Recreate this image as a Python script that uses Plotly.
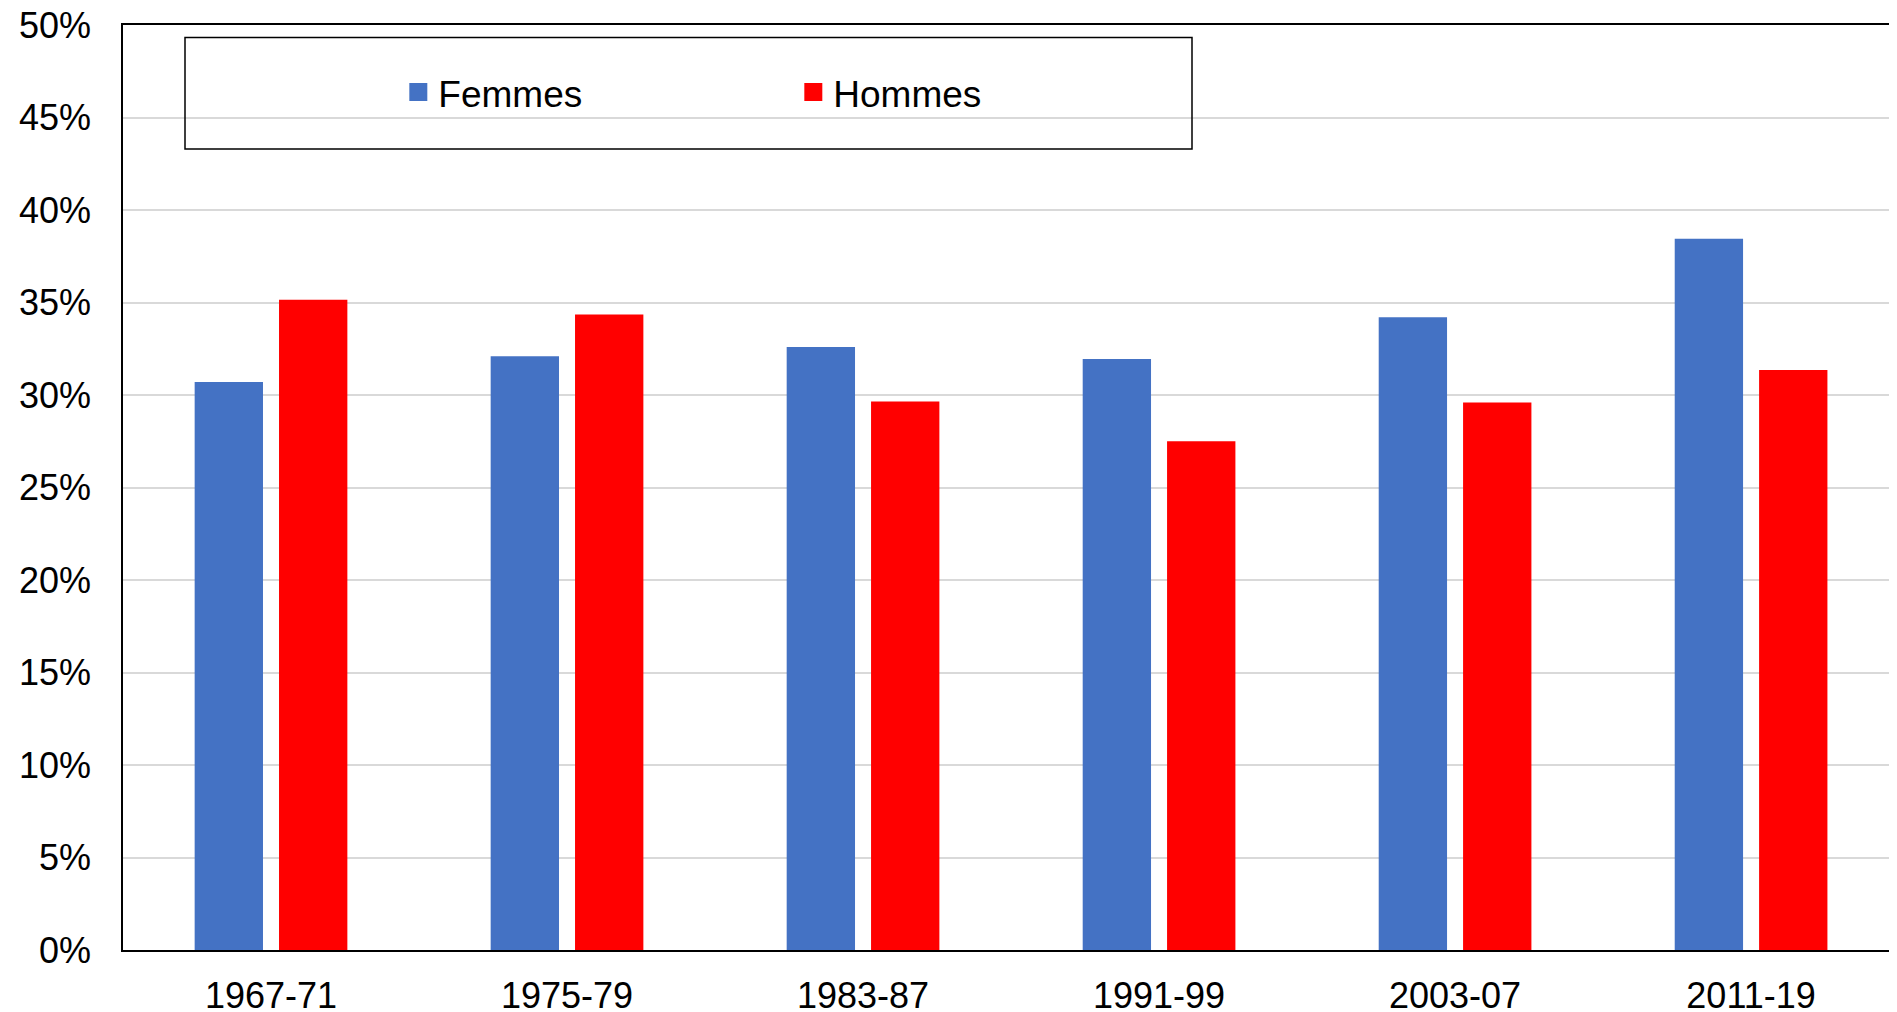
import plotly.graph_objects as go

periods = ["1967-71", "1975-79", "1983-87", "1991-99", "2003-07", "2011-19"]
femmes = [30.7, 32.1, 32.6, 31.95, 34.2, 38.45]
hommes = [35.15, 34.35, 29.65, 27.5, 29.6, 31.35]
y_ticks = [0, 5, 10, 15, 20, 25, 30, 35, 40, 45, 50]
y_labels = [f"{v}%" for v in y_ticks]

BLUE = "#4472C4"
RED = "#FF0000"
FONT = "Arial, Liberation Sans, sans-serif"

# page body has an 8px margin; figure coordinates are offset accordingly
ML, MT, PLOT_W, PLOT_H = 115, 17, 1782, 925

fig = go.Figure()
fig.add_trace(go.Bar(x=periods, y=femmes, name="Femmes", marker_color=BLUE,
                     marker_line_width=0, showlegend=False))
fig.add_trace(go.Bar(x=periods, y=hommes, name="Hommes", marker_color=RED,
                     marker_line_width=0, showlegend=False))
# legend entries with larger square swatches
for name, col in [("Femmes", BLUE), ("Hommes", RED)]:
    fig.add_trace(go.Scatter(x=[periods[0]], y=[None], mode="markers", name=name,
                             marker=dict(symbol="square", size=16, color=col,
                                         line=dict(color=col, width=2))))

fig.update_layout(
    width=1897, height=1012,
    margin=dict(l=ML, r=0, t=MT, b=1012 - MT - PLOT_H),
    paper_bgcolor="white", plot_bgcolor="white",
    barmode="group", bargap=0.43, bargroupgap=0.19,
    font=dict(family=FONT, size=36, color="black"),
    showlegend=True,
    legend=dict(orientation="h", x=0.1545, y=0.927, xanchor="left", yanchor="middle",
                font=dict(size=37), entrywidth=350, bgcolor="rgba(0,0,0,0)",
                itemsizing="trace"),
    shapes=[dict(type="rect", xref="paper", yref="paper",
                 x0=62 / PLOT_W, x1=1069 / PLOT_W,
                 y0=(926 - 125) / PLOT_H, y1=(926 - 13.5) / PLOT_H,
                 line=dict(color="black", width=1.5), fillcolor="rgba(0,0,0,0)", layer="above")],
)
fig.update_xaxes(type="category", showline=True, linecolor="black", linewidth=2, mirror=True,
                 showgrid=False, ticks="", ticklabelstandoff=13, automargin=False,
                 ticklabeloverflow="allow",
                 tickfont=dict(size=36), range=[-0.5, 5.52])
fig.update_yaxes(range=[0, 50], tickvals=y_ticks, ticktext=y_labels,
                 showgrid=True, gridcolor="#d9d9d9", gridwidth=1.5,
                 showline=True, linecolor="black", linewidth=1.5, mirror=False,
                 ticks="", ticklabelstandoff=23, tickfont=dict(size=36),
                 ticklabeloverflow="allow",
                 zeroline=False, automargin=False)

fig.write_html("out.html")
